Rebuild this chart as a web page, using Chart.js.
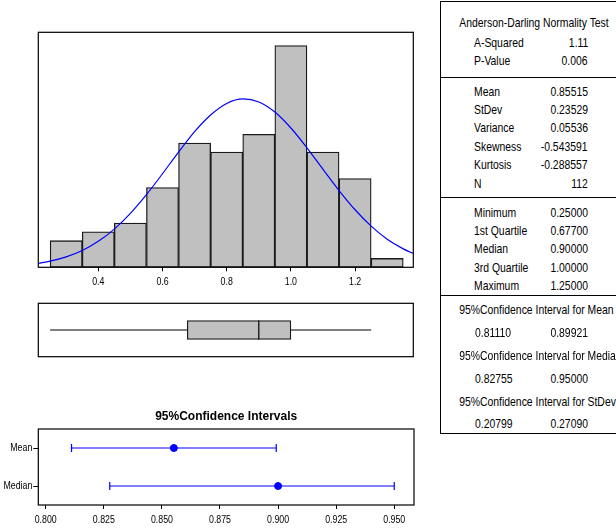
<!DOCTYPE html>
<html>
<head>
<meta charset="utf-8">
<script src="https://cdn.jsdelivr.net/npm/chart.js@4.4.1/dist/chart.umd.min.js"></script>
<style>
  html, body { margin: 0; padding: 0; background: #fff; }
  body { width: 616px; height: 529px; position: relative; overflow: hidden; }
  .pane { position: absolute; }
  #stats {
    position: absolute; left: 440px; top: 1px; width: 190px; height: 433px;
    border: 1px solid #000; box-sizing: border-box;
    font-family: "Liberation Sans", Arial, sans-serif;
    font-size: 13px; color: #000;
  }
  #stats div { position: absolute; white-space: nowrap; height: 16px; line-height: 16px; }
  #stats .sep { height: 0; line-height: 0; border-top: 1px solid #000; left: 0; right: 0; }
</style>
</head>
<body>
<div class="pane" style="left:0;top:0;width:430px;height:300px"><canvas id="histChart"></canvas></div>
<div class="pane" style="left:0;top:295px;width:430px;height:70px"><canvas id="boxChart"></canvas></div>
<div class="pane" style="left:0;top:400px;width:430px;height:129px"><canvas id="ciChart"></canvas></div>
<div id="stats"></div>
<script>
// histogram
const binMids = [0.3, 0.4, 0.5, 0.6, 0.7, 0.8, 0.9, 1.0, 1.1, 1.2, 1.3];
const binCounts = [3, 4, 5, 9, 14, 13, 15, 25, 13, 10, 1];
const histTicks = [0.4, 0.6, 0.8, 1.0, 1.2];

// fitted normal curve
const curveX = [0.213, 0.25, 0.3, 0.35, 0.4, 0.45, 0.5, 0.55, 0.6, 0.65, 0.7, 0.75, 0.8,
                0.85, 0.9, 0.95, 1.0, 1.05, 1.1, 1.15, 1.2, 1.25, 1.3, 1.35, 1.381];
const curveY = [0.46, 0.70, 1.18, 1.90, 2.93, 4.31, 6.08, 8.19, 10.55, 12.99, 15.3, 17.18, 18.48,
                18.99, 18.64, 17.51, 15.71, 13.48, 11.05, 8.66, 6.49, 4.64, 3.17, 2.08, 1.56];

// boxplot
const whiskerEnds = [0.25, 1.25];
const quartiles = [0.677, 0.9, 1.0];

// confidence intervals
const ciLabels = ["Mean", "Median"];
const ciLow = [0.8111, 0.82755];
const ciEst = [0.85515, 0.9];
const ciHigh = [0.89921, 0.95];
const ciTicks = [0.8, 0.825, 0.85, 0.875, 0.9, 0.925, 0.95];

// summary table
const adTitle = "Anderson-Darling Normality Test";
const adRows = [["A-Squared", "1.11"], ["P-Value", "0.006"]];
const momentRows = [["Mean", "0.85515"], ["StDev", "0.23529"], ["Variance", "0.05536"],
                    ["Skewness", "-0.543591"], ["Kurtosis", "-0.288557"], ["N", "112"]];
const quantileRows = [["Minimum", "0.25000"], ["1st Quartile", "0.67700"], ["Median", "0.90000"],
                      ["3rd Quartile", "1.00000"], ["Maximum", "1.25000"]];
const ciTitles = ["95%Confidence Interval for Mean", "95%Confidence Interval for Median",
                  "95%Confidence Interval for StDev"];
const ciValues = [["0.81110", "0.89921"], ["0.82755", "0.95000"], ["0.20799", "0.27090"]];

const NARROW = 0.8;

Chart.defaults.font.family = "'Liberation Sans', Arial, sans-serif";
Chart.defaults.color = "#000";
Chart.defaults.animation = false;

// squeeze canvas text horizontally, like the narrow font of the original
const narrowPlugin = {
  id: "narrow",
  afterInit(chart) {
    const ctx = chart.ctx;
    const orig = ctx.fillText.bind(ctx);
    ctx._wideFillText = orig;
    ctx.fillText = (t, x, y, mw) => {
      const w = ctx.measureText(t).width * NARROW;
      orig(t, x, y, mw !== undefined ? Math.min(mw, w) : w);
    };
  }
};

const framePlugin = {
  id: "frame",
  afterDraw(chart) {
    const a = chart.chartArea;
    const ctx = chart.ctx;
    ctx.save();
    ctx.strokeStyle = "#000";
    ctx.lineWidth = 1.2;
    ctx.strokeRect(a.left, a.top, a.right - a.left, a.bottom - a.top);
    ctx.restore();
  }
};

const histMin = 0.2131, histMax = 1.3813;

new Chart(document.getElementById("histChart"), {
  type: "bar",
  data: {
    datasets: [
      {
        type: "line",
        data: curveX.map((x, i) => ({ x, y: curveY[i] })),
        borderColor: "#0000ff", borderWidth: 1.2, pointRadius: 0,
        cubicInterpolationMode: "monotone", order: 0
      },
      {
        type: "bar",
        data: binMids.map((x, i) => ({ x, y: binCounts[i] })),
        backgroundColor: "#c0c0c0", borderColor: "#1a1a1a", borderWidth: 1.3,
        borderSkipped: false, barPercentage: 1, categoryPercentage: 1, order: 1
      }
    ]
  },
  options: {
    responsive: true, maintainAspectRatio: false,
    layout: { padding: { left: 38.3, right: 16.7, top: 32.3, bottom: 0 } },
    plugins: { legend: { display: false }, tooltip: { enabled: false } },
    scales: {
      x: {
        type: "linear", min: histMin, max: histMax, offset: false,
        grid: { drawOnChartArea: false, drawTicks: true, tickLength: 4, color: "#000", offset: false },
        border: { display: false },
        afterBuildTicks: s => { s.ticks = histTicks.map(v => ({ value: v })); },
        afterFit: s => { s.height = 32.7; },
        ticks: { font: { size: 11 }, padding: 4, maxRotation: 0, autoSkip: false,
                 callback: v => v.toFixed(1) }
      },
      y: { display: false, min: 0, max: 26.5 }
    }
  },
  plugins: [narrowPlugin, framePlugin]
});

new Chart(document.getElementById("boxChart"), {
  type: "bar",
  data: {
    datasets: [
      { type: "line", data: [{ x: whiskerEnds[0], y: 0.5 }, { x: quartiles[0], y: 0.5 }],
        borderColor: "#000", borderWidth: 1, pointRadius: 0, order: 0 },
      { type: "line", data: [{ x: quartiles[2], y: 0.5 }, { x: whiskerEnds[1], y: 0.5 }],
        borderColor: "#000", borderWidth: 1, pointRadius: 0, order: 0 },
      { type: "line", data: [{ x: quartiles[1], y: 0.322 }, { x: quartiles[1], y: 0.678 }],
        borderColor: "#000", borderWidth: 1.2, pointRadius: 0, order: 0 },
      { type: "bar", data: [{ x: [quartiles[0], quartiles[2]], y: 0.5 }],
        backgroundColor: "#c0c0c0", borderColor: "#1a1a1a", borderWidth: 1.3,
        borderSkipped: false, barThickness: 19, order: 1 }
    ]
  },
  options: {
    indexAxis: "y",
    responsive: true, maintainAspectRatio: false,
    layout: { padding: { left: 38.3, right: 16.7, top: 8.3, bottom: 8.3 } },
    plugins: { legend: { display: false }, tooltip: { enabled: false } },
    scales: {
      x: { type: "linear", min: histMin, max: histMax, display: false },
      y: { type: "linear", min: 0, max: 1, offset: false, display: false }
    }
  },
  plugins: [framePlugin]
});

const ciTitlePlugin = {
  id: "ciTitle",
  afterDraw(chart) {
    const a = chart.chartArea;
    const ctx = chart.ctx;
    ctx.save();
    ctx.font = "bold 12px 'Liberation Sans', Arial, sans-serif";
    ctx.fillStyle = "#000";
    ctx.textAlign = "center";
    ctx.textBaseline = "middle";
    (ctx._wideFillText || ctx.fillText.bind(ctx))("95%Confidence Intervals", (a.left + a.right) / 2, 17);
    ctx.restore();
  }
};

new Chart(document.getElementById("ciChart"), {
  type: "line",
  data: {
    datasets: ciLabels.map((lab, i) => ({
      data: [{ x: ciLow[i], y: lab }, { x: ciEst[i], y: lab }, { x: ciHigh[i], y: lab }],
      borderColor: "#0000ff", backgroundColor: "#0000ff", borderWidth: 1.2,
      pointStyle: ["line", "circle", "line"], pointRotation: [90, 0, 90],
      pointRadius: [4, 3.5, 4], pointBorderWidth: [1.2, 1, 1.2],
      pointBackgroundColor: "#0000ff", pointBorderColor: "#0000ff"
    }))
  },
  options: {
    responsive: true, maintainAspectRatio: false,
    layout: { padding: { left: 0, right: 16, top: 29, bottom: 0 } },
    plugins: { legend: { display: false }, tooltip: { enabled: false } },
    scales: {
      x: {
        type: "linear", min: 0.7968, max: 0.9585,
        grid: { drawOnChartArea: false, drawTicks: true, tickLength: 4, color: "#000" },
        border: { display: false },
        afterBuildTicks: s => { s.ticks = ciTicks.map(v => ({ value: v })); },
        afterFit: s => { s.height = 24; },
        ticks: { font: { size: 11 }, padding: 4, maxRotation: 0, autoSkip: false,
                 callback: v => v.toFixed(3) }
      },
      y: {
        type: "category", labels: ciLabels, offset: true,
        grid: { drawOnChartArea: false, tickLength: 5, color: "#000" },
        border: { display: false },
        afterFit: s => { s.width = 38.3; },
        ticks: { font: { size: 11 }, padding: 1 }
      }
    }
  },
  plugins: [narrowPlugin, framePlugin, ciTitlePlugin]
});

// summary table (coordinates are page pixels, box inner origin is 441,2)
const stats = document.getElementById("stats");
const ox = 441, oy = 2;
const innerW = 188;

function addText(text, y, style, origin) {
  const d = document.createElement("div");
  d.textContent = text;
  d.style.top = (y - oy - 8) + "px";
  d.style.transform = "scaleX(" + NARROW + ")";
  d.style.transformOrigin = origin + " center";
  Object.assign(d.style, style);
  stats.appendChild(d);
}
function addLeft(text, x, y) {
  addText(text, y, { left: (x - ox) + "px" }, "left");
}
function addRight(text, x, y) {
  addText(text, y, { right: (innerW - (x - ox)) + "px", textAlign: "right" }, "right");
}
function addCentered(text, y) {
  addText(text, y, { left: "0px", width: "182px", textAlign: "center" }, "center");
}
function addSep(y) {
  const d = document.createElement("div");
  d.className = "sep";
  d.style.top = (y - oy) + "px";
  stats.appendChild(d);
}

addCentered(adTitle, 22.5);
adRows.forEach((r, i) => { addLeft(r[0], 474, 43 + i * 18.4); addRight(r[1], 588, 43 + i * 18.4); });
addSep(77);
momentRows.forEach((r, i) => { addLeft(r[0], 474, 91.5 + i * 18.4); addRight(r[1], 588, 91.5 + i * 18.4); });
addSep(197);
quantileRows.forEach((r, i) => { addLeft(r[0], 474, 212.5 + i * 18.4); addRight(r[1], 588, 212.5 + i * 18.4); });
addSep(295);
ciTitles.forEach((t, i) => {
  const y = 310 + i * 45.8;
  addCentered(t, y);
  addLeft(ciValues[i][0], 475, y + 22.7);
  addRight(ciValues[i][1], 588, y + 22.7);
});
</script>
</body>
</html>
